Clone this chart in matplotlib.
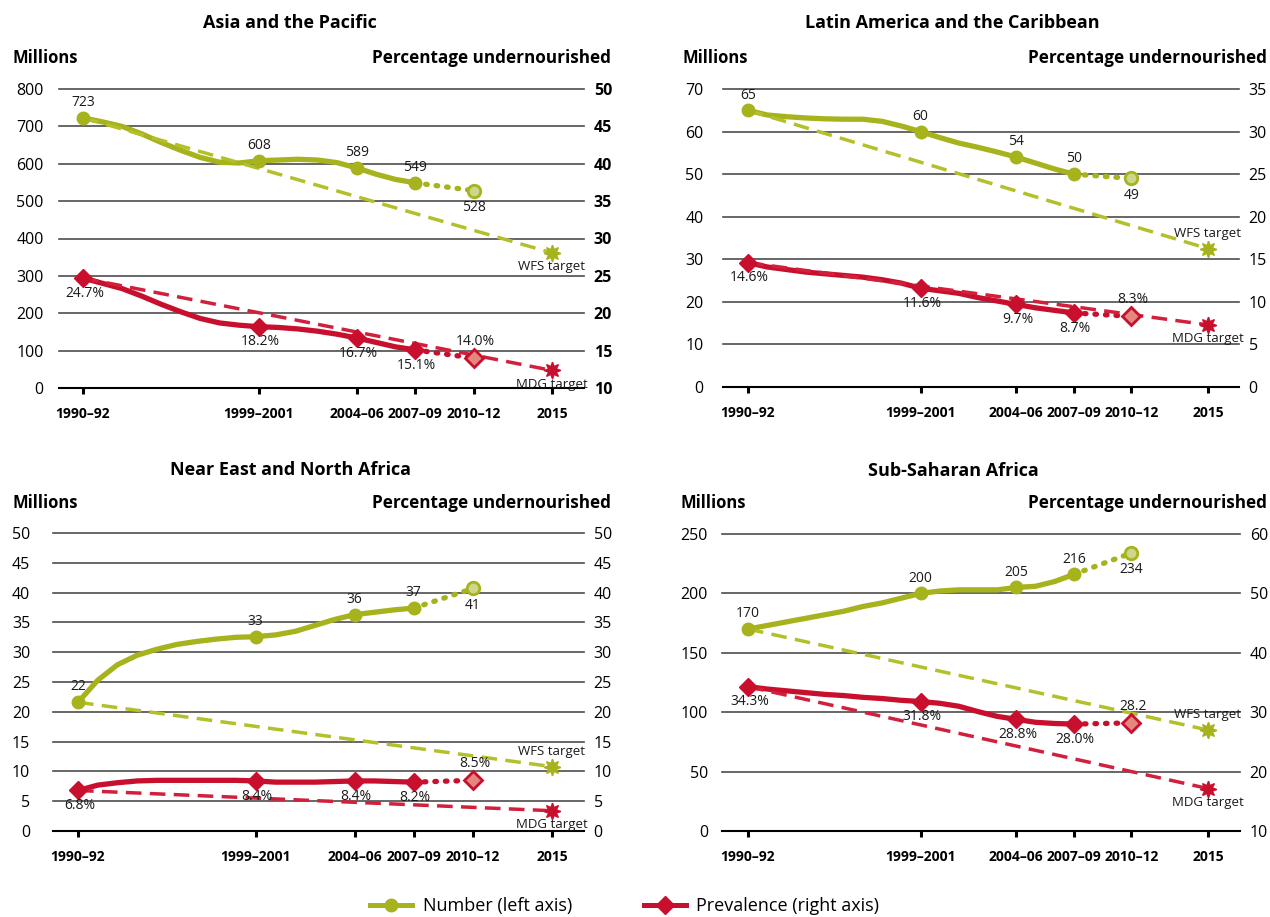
import numpy as np
import matplotlib.pyplot as plt
from matplotlib.lines import Line2D

plt.rcParams['font.family'] = ['Open Sans', 'DejaVu Sans']

GREEN = '#a6b31c'
GREEN_DASH = '#b3c02a'
GREEN_LIGHT = '#cdd68b'
RED = '#c8102e'
RED_DASH = '#d11f3c'
RED_LIGHT = '#e4877f'

W, H = 1270, 917

# ---- data -------------------------------------------------------------
years = list(range(1991, 2009))
key_years = [1991, 2000, 2005, 2008]
latest_year = 2011
target_year = 2015
xtick_years = [1991, 2000, 2005, 2008, 2011, 2015]
xtick_labels = ['1990–92', '1999–2001', '2004–06', '2007–09', '2010–12', '2015']

# Asia and the Pacific
asia_num = [723, 712, 700, 680, 657, 636, 617, 604, 602, 608, 610, 612, 610, 603, 589, 572, 558, 549]
asia_pct = [24.7, 24.0, 23.3, 22.3, 21.2, 20.2, 19.3, 18.7, 18.4, 18.2, 18.1, 17.9, 17.6, 17.2, 16.7, 16.1, 15.5, 15.1]
asia_last = [528, 14.0]
asia_targets = [361.5, 12.35]  # WFS (millions), MDG (%)
asia_num_labels = ['723', '608', '589', '549', '528']
asia_pct_labels = ['24.7%', '18.2%', '16.7%', '15.1%', '14.0%']

# Latin America and the Caribbean
lac_num = [65, 63.9, 63.5, 63.2, 63.0, 62.9, 62.9, 62.4, 61.3, 60, 58.6, 57.3, 56.3, 55.2, 54, 52.6, 51.2, 50]
lac_pct = [14.6, 14.1, 13.8, 13.5, 13.3, 13.1, 12.9, 12.6, 12.2, 11.6, 11.3, 11.0, 10.5, 10.1, 9.7, 9.3, 9.0, 8.7]
lac_last = [49, 8.3]
lac_targets = [32.5, 7.3]
lac_num_labels = ['65', '60', '54', '50', '49']
lac_pct_labels = ['14.6%', '11.6%', '9.7%', '8.7%', '8.3%']

# Near East and North Africa
nena_num = [21.6, 25.3, 27.9, 29.5, 30.5, 31.3, 31.8, 32.2, 32.5, 32.6, 32.9, 33.5, 34.5, 35.5, 36.3, 36.7, 37.1, 37.4]
nena_pct = [6.8, 7.7, 8.1, 8.4, 8.5, 8.5, 8.5, 8.5, 8.5, 8.4, 8.2, 8.2, 8.2, 8.3, 8.4, 8.4, 8.3, 8.2]
nena_last = [40.7, 8.5]
nena_targets = [10.8, 3.4]
nena_num_labels = ['22', '33', '36', '37', '41']
nena_pct_labels = ['6.8%', '8.4%', '8.4%', '8.2%', '8.5%']

# Sub-Saharan Africa
ssa_num = [170, 173, 176, 179, 182, 185, 189, 192, 196, 200, 202, 203, 203, 203, 205, 206, 210, 216]
ssa_pct = [34.3, 33.9, 33.6, 33.3, 33.0, 32.8, 32.5, 32.3, 32.0, 31.8, 31.5, 31.0, 30.1, 29.3, 28.8, 28.3, 28.1, 28.0]
ssa_last = [234, 28.2]
ssa_targets = [85, 17.15]
ssa_num_labels = ['170', '200', '205', '216', '234']
ssa_pct_labels = ['34.3%', '31.8%', '28.8%', '28.0%', '28.2']

panels = [
    dict(title='Asia and the Pacific', num=asia_num, pct=asia_pct, last=asia_last,
         targets=asia_targets, nl=asia_num_labels, pl=asia_pct_labels,
         left=(0, 800, 100), right=(10, 50, 5),
         box=(59, 584, 89, 388), xt=(83, 552), title_xy=(290, 23), head_y=58,
         mill_x=12, perc_x=611, wfs_above=False, bold_right=True, lpad=11),
    dict(title='Latin America and the Caribbean', num=lac_num, pct=lac_pct, last=lac_last,
         targets=lac_targets, nl=lac_num_labels, pl=lac_pct_labels,
         left=(0, 70, 10), right=(0, 35, 5),
         box=(723, 1239, 89, 387), xt=(748, 1208), title_xy=(952, 23), head_y=58,
         mill_x=683, perc_x=1267, wfs_above=True, bold_right=False, lpad=14),
    dict(title='Near East and North Africa', num=nena_num, pct=nena_pct, last=nena_last,
         targets=nena_targets, nl=nena_num_labels, pl=nena_pct_labels,
         left=(0, 50, 5), right=(0, 50, 5),
         box=(53, 584, 533, 831), xt=(78, 552), title_xy=(290, 470), head_y=503,
         mill_x=12, perc_x=611, wfs_above=True, bold_right=False, lpad=16.5),
    dict(title='Sub-Saharan Africa', num=ssa_num, pct=ssa_pct, last=ssa_last,
         targets=ssa_targets, nl=ssa_num_labels, pl=ssa_pct_labels,
         left=(0, 250, 50), right=(10, 60, 10),
         box=(722, 1240, 534, 831), xt=(748, 1208), title_xy=(953, 471), head_y=503,
         mill_x=681, perc_x=1267, wfs_above=True, bold_right=False, lpad=10),
]

fig = plt.figure(figsize=(W / 100, H / 100), dpi=100)

dot = (0, (0.3, 1.7))
dash = (0, (4.5, 2.4))

for p in panels:
    x0, x1, y0, y1 = p['box']
    ax = fig.add_axes([x0 / W, 1 - y1 / H, (x1 - x0) / W, (y1 - y0) / H])
    ax2 = ax.twinx()
    # x scale from the tick pixel positions of 1991 and 2015
    t0, t1 = p['xt']
    ppy = (t1 - t0) / (2015 - 1991)
    ax.set_xlim(1991 - (t0 - x0) / ppy, 2015 + (x1 - t1) / ppy)

    lo, hi, st = p['left']
    ax.set_ylim(lo, hi)
    lticks = np.arange(lo, hi + st / 2, st)
    ax.set_yticks(lticks)
    ax.set_yticklabels([f'{v:g}' for v in lticks])
    rlo, rhi, rst = p['right']
    ax2.set_ylim(rlo, rhi)
    rticks = np.arange(rlo, rhi + rst / 2, rst)
    ax2.set_yticks(rticks)
    ax2.set_yticklabels([f'{v:g}' for v in rticks],
                        fontweight='bold' if p['bold_right'] else 'normal')

    for a in (ax, ax2):
        for s in a.spines.values():
            s.set_visible(False)
    ax.spines['bottom'].set_visible(True)
    ax.spines['bottom'].set_linewidth(1.5)
    ax.spines['bottom'].set_color('black')
    ax.spines['bottom'].set_zorder(1)

    for v in lticks[1:]:
        ax.axhline(v, color='#4d4d4d', lw=1.2, zorder=0, clip_on=False)

    ax.tick_params(axis='y', length=0, labelsize=11.5, pad=p['lpad'])
    ax2.tick_params(axis='y', length=0, labelsize=11.5, pad=7)
    ax.set_xticks(xtick_years)
    ax.set_xticklabels(xtick_labels, fontweight='bold', fontsize=10)
    ax.tick_params(axis='x', direction='out', length=4.5, width=2.2, pad=9)

    num, pct = p['num'], p['pct']
    key_num = [num[years.index(y)] for y in key_years]
    key_pct = [pct[years.index(y)] for y in key_years]
    num_last, pct_last = p['last']
    wfs, mdg = p['targets']

    # number (left axis)
    ax.plot(years, num, color=GREEN, lw=3.8, solid_joinstyle='round',
            solid_capstyle='round', zorder=3)
    ax.plot([years[-1], latest_year], [num[-1], num_last], color=GREEN, lw=3.8,
            ls=dot, dash_capstyle='round', zorder=3)
    ax.plot([years[0], target_year], [num[0], wfs], color=GREEN_DASH, lw=2.5,
            ls=dash, zorder=4)
    ax.plot(key_years, key_num, 'o', color=GREEN, ms=9, zorder=5)
    ax.plot([latest_year], [num_last], 'o', mfc=GREEN_LIGHT, mec=GREEN, mew=2,
            ms=9, zorder=5)
    ax.plot([target_year], [wfs], marker=(8, 1, 0), color=GREEN, ms=12, zorder=5)

    # prevalence (right axis)
    ax2.plot(years, pct, color=RED, lw=3.8, solid_joinstyle='round',
             solid_capstyle='round', zorder=3)
    ax2.plot([years[-1], latest_year], [pct[-1], pct_last], color=RED, lw=3.8,
             ls=dot, dash_capstyle='round', zorder=3)
    ax2.plot([years[0], target_year], [pct[0], mdg], color=RED_DASH, lw=2.5,
             ls=dash, zorder=4)
    ax2.plot(key_years, key_pct, 'D', color=RED, ms=9, zorder=5)
    ax2.plot([latest_year], [pct_last], 'D', mfc=RED_LIGHT, mec=RED, mew=2,
             ms=9, zorder=5)
    ax2.plot([target_year], [mdg], marker=(8, 1, 0), color=RED, ms=12, zorder=5)

    # data labels
    for x, y, s in zip(key_years + [latest_year], key_num + [num_last], p['nl']):
        off = -12 if x == latest_year else 11
        ax.annotate(s, (x, y), xytext=(0, off), textcoords='offset points',
                    ha='center', va='center', fontsize=10, color='#1a1a1a', zorder=6)
    for x, y, s in zip(key_years + [latest_year], key_pct + [pct_last], p['pl']):
        off = 12 if x == latest_year else -11
        ax2.annotate(s, (x, y), xytext=(1, off), textcoords='offset points',
                     ha='center', va='center', fontsize=10, color='#1a1a1a', zorder=6)

    ax.annotate('WFS target', (target_year, wfs),
                xytext=(0, 11 if p['wfs_above'] else -10), textcoords='offset points',
                ha='center', va='center', fontsize=9.5, color='#1a1a1a')
    ax2.annotate('MDG target', (target_year, mdg), xytext=(0, -10),
                 textcoords='offset points', ha='center', va='center',
                 fontsize=9.5, color='#1a1a1a')

    tx, ty = p['title_xy']
    fig.text(tx / W, 1 - ty / H, p['title'], ha='center', va='center',
             fontsize=13, fontweight='bold')
    fig.text(p['mill_x'] / W, 1 - p['head_y'] / H, 'Millions', ha='left',
             va='center', fontsize=12, fontweight='bold')
    fig.text(p['perc_x'] / W, 1 - p['head_y'] / H, 'Percentage undernourished',
             ha='right', va='center', fontsize=12.3, fontweight='bold')

handles = [
    Line2D([], [], color=GREEN, lw=3.6, marker='o', ms=9),
    Line2D([], [], color=RED, lw=3.6, marker='D', ms=9),
]
fig.legend(handles, ['Number (left axis)', 'Prevalence (right axis)'],
           loc='center', bbox_to_anchor=(0.492, 0.012), ncol=2, frameon=False,
           fontsize=13, handlelength=2.3, columnspacing=4, handletextpad=0.6)

fig.savefig('out.png', dpi=100)
